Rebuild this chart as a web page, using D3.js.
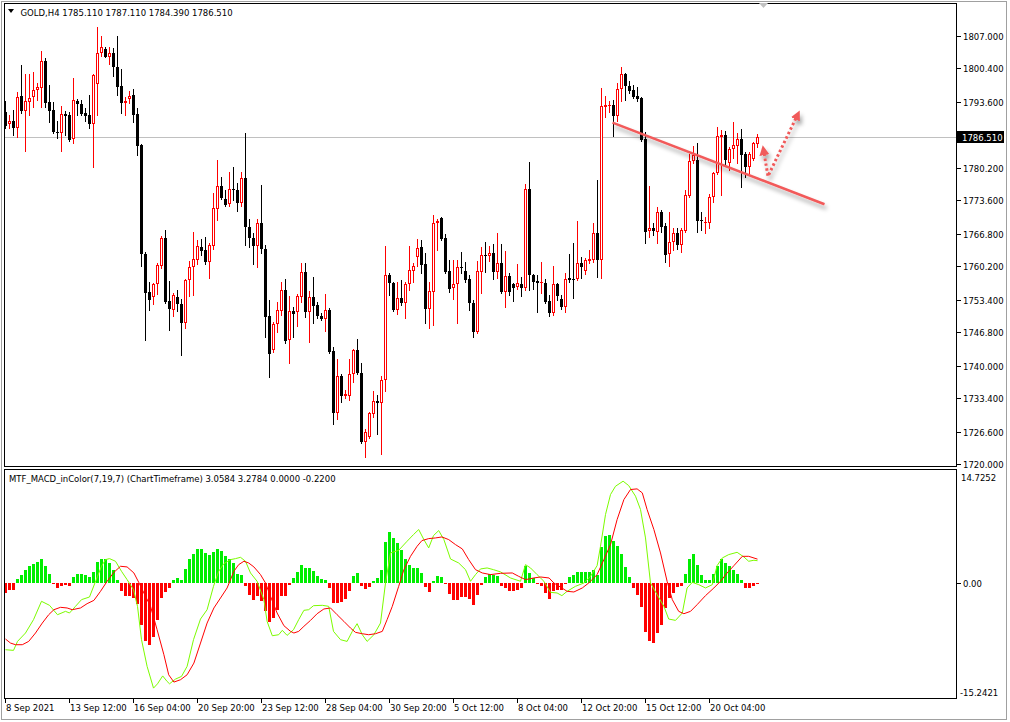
<!DOCTYPE html>
<html><head><meta charset="utf-8">
<script src="https://cdn.jsdelivr.net/npm/d3@7"></script>
<style>
body{margin:0;background:#fff;}
svg{display:block;}
text{font-family:'DejaVu Sans',sans-serif;font-size:8.5px;fill:#000;}
</style>
</head><body>
<svg id="c" width="1010" height="722"></svg>
<script>
// ---------- DATA ----------
const symbol = "GOLD,H4";
const opens = [1791.5,1789.2,1789.8,1788.3,1794.8,1791.7,1793.6,1794.6,1796.0,1796.4,1801.9,1793.6,1792.0,1787.4,1787.3,1791.1,1790.9,1786.1,1793.8,1793.2,
1791.3,1790.9,1789.1,1797.2,1803.6,1804.3,1802.8,1803.5,1800.6,1796.8,1793.3,1794.2,1795.0,1791.1,1784.8,1762.7,1755.0,1753.9,1756.5,1760.3,
1766.0,1753.1,1751.4,1753.9,1752.5,1748.6,1757.4,1760.1,1761.5,1764.1,1763.5,1761.1,1764.3,1771.9,1776.6,1773.9,1772.8,1776.0,1775.7,1773.0,
1778.1,1768.2,1765.9,1764.4,1768.9,1763.8,1750.1,1743.2,1748.4,1751.2,1755.4,1745.2,1751.2,1750.8,1754.0,1759.0,1750.8,1753.9,1752.3,1750.1,
1749.5,1751.3,1743.0,1730.3,1737.9,1733.9,1733.9,1738.3,1743.2,1738.4,1724.5,1725.5,1730.1,1732.8,1732.4,1737.1,1758.4,1756.8,1751.3,1753.7,
1752.8,1756.6,1759.3,1762.1,1764.2,1760.6,1751.5,1755.0,1768.9,1770.1,1765.9,1759.2,1755.7,1756.5,1760.1,1759.3,1757.6,1752.8,1746.9,1759.1,
1762.5,1762.3,1762.9,1759.1,1760.8,1755.0,1758.2,1756.6,1755.9,1756.6,1755.7,1776.0,1758.5,1757.2,1756.7,1756.8,1753.1,1750.7,1756.6,1753.5,
1752.0,1757.9,1757.6,1757.6,1760.8,1759.3,1761.2,1761.5,1766.9,1761.5,1792.6,1792.7,1793.0,1790.8,1796.2,1799.3,1796.8,1796.0,1794.8,1794.4,
1786.0,1767.4,1767.9,1767.2,1771.3,1768.4,1762.7,1765.1,1766.9,1764.5,1767.4,1774.5,1781.6,1781.8,1769.6,1768.9,1769.0,1774.2,1779.1,1786.5,
1786.9,1781.2,1784.0,1784.7,1786.0,1783.0,1780.4,1782.0,1785.11];
const highs = [1793.8,1790.9,1792.0,1795.6,1801.1,1799.3,1799.3,1799.7,1797.4,1803.9,1802.5,1797.0,1793.6,1789.7,1792.8,1791.7,1791.5,1798.5,1794.2,1794.0,
1792.4,1795.0,1799.3,1808.8,1806.9,1804.8,1804.7,1804.5,1807.0,1800.2,1794.5,1795.8,1796.2,1792.4,1785.0,1763.1,1757.0,1756.8,1760.8,1766.3,
1767.6,1757.2,1754.8,1755.4,1753.5,1757.7,1761.3,1767.2,1765.5,1765.7,1766.2,1764.9,1775.0,1781.8,1778.3,1775.7,1779.4,1780.3,1777.1,1779.4,
1787.2,1769.7,1766.9,1769.8,1776.7,1764.5,1753.3,1748.9,1753.0,1757.0,1757.7,1754.1,1752.0,1754.5,1760.8,1760.8,1755.2,1758.1,1753.0,1750.6,
1754.5,1751.8,1743.8,1741.3,1738.3,1735.0,1741.3,1743.3,1745.5,1740.5,1727.2,1730.6,1734.9,1734.0,1737.9,1764.3,1758.9,1757.0,1756.9,1757.4,
1757.0,1764.4,1760.8,1765.7,1765.5,1762.8,1757.0,1770.6,1769.7,1770.3,1766.7,1761.5,1761.5,1761.5,1763.1,1761.1,1758.4,1753.3,1761.3,1764.2,
1765.2,1764.4,1764.8,1767.0,1764.7,1763.3,1758.9,1756.8,1760.6,1758.1,1776.9,1781.4,1758.7,1758.4,1761.0,1757.7,1754.3,1760.2,1756.8,1754.3,
1758.9,1762.7,1765.0,1769.4,1762.0,1761.8,1763.6,1768.9,1777.7,1796.4,1794.8,1793.8,1794.0,1797.5,1800.8,1799.5,1797.9,1797.0,1796.6,1794.6,
1787.5,1776.5,1768.9,1772.3,1771.6,1768.9,1771.2,1767.9,1767.9,1768.0,1775.7,1783.1,1784.6,1785.2,1771.2,1770.2,1774.8,1779.4,1788.6,1787.9,
1787.7,1784.5,1789.6,1787.3,1788.1,1783.5,1783.5,1785.4,1787.11];
const lows = [1788.3,1788.2,1786.9,1786.5,1791.3,1783.6,1790.9,1792.6,1794.0,1792.6,1792.6,1789.5,1787.3,1786.3,1783.6,1786.9,1785.6,1785.2,1790.9,1790.9,
1789.7,1788.3,1780.4,1790.9,1802.9,1802.7,1801.4,1798.9,1795.0,1791.4,1790.9,1793.4,1789.6,1782.8,1760.3,1745.2,1751.4,1752.5,1754.5,1759.9,
1752.8,1747.2,1750.1,1751.2,1742.1,1747.7,1754.1,1754.3,1760.6,1762.5,1760.6,1757.9,1763.8,1769.6,1773.8,1772.4,1772.4,1773.7,1771.5,1772.4,
1764.5,1764.2,1760.6,1760.1,1762.8,1745.9,1737.7,1742.8,1746.9,1750.3,1744.6,1740.5,1745.9,1748.0,1753.0,1749.9,1744.8,1748.6,1749.6,1749.3,
1747.1,1742.6,1728.1,1729.1,1732.6,1733.5,1733.0,1736.7,1738.2,1724.2,1721.5,1725.2,1729.6,1726.1,1722.0,1734.9,1754.3,1751.2,1750.5,1752.3,
1749.7,1755.4,1757.0,1760.3,1758.8,1748.7,1747.7,1748.2,1763.6,1765.5,1758.8,1755.0,1753.5,1748.6,1758.9,1757.0,1751.3,1745.9,1746.7,1754.8,
1759.0,1761.3,1757.7,1757.9,1754.8,1752.0,1754.3,1753.2,1755.5,1754.1,1755.4,1755.4,1755.5,1750.9,1754.8,1752.7,1750.1,1750.3,1753.3,1751.6,
1750.8,1757.0,1753.8,1757.4,1757.9,1758.6,1760.8,1761.1,1758.1,1757.9,1790.6,1791.6,1786.7,1789.7,1793.8,1794.0,1795.5,1794.3,1793.8,1785.7,
1764.9,1766.1,1766.5,1764.9,1767.2,1761.0,1760.2,1763.5,1763.7,1763.0,1767.2,1774.3,1781.2,1767.2,1767.5,1766.9,1767.9,1773.3,1778.9,1774.7,
1780.8,1779.7,1782.3,1781.1,1776.4,1778.4,1778.9,1781.8,1784.39];
const closes = [1788.7,1789.7,1788.2,1794.6,1791.7,1793.8,1794.4,1796.0,1796.6,1801.9,1793.4,1791.7,1787.5,1787.2,1791.1,1790.7,1785.9,1794.0,1793.2,1791.1,
1790.7,1789.1,1799.1,1803.5,1804.7,1802.8,1803.5,1800.6,1796.7,1793.3,1793.8,1794.9,1790.9,1784.7,1762.7,1754.8,1753.3,1756.6,1760.4,1766.0,
1752.9,1751.5,1754.3,1752.5,1748.6,1757.5,1760.0,1761.6,1764.3,1763.3,1761.0,1764.5,1772.0,1776.6,1774.1,1772.6,1775.8,1775.6,1773.0,1778.1,
1768.1,1765.9,1764.4,1768.9,1763.8,1749.9,1742.3,1748.4,1751.3,1755.4,1745.1,1751.1,1750.5,1754.1,1759.0,1750.8,1753.9,1752.2,1750.1,1749.5,
1751.3,1742.8,1730.3,1737.9,1733.9,1734.2,1738.3,1743.2,1738.4,1724.4,1726.6,1730.3,1732.8,1732.4,1737.1,1758.4,1756.8,1751.3,1753.7,1752.7,
1756.6,1759.4,1760.3,1764.0,1760.4,1751.5,1755.2,1768.9,1769.4,1765.7,1759.1,1755.6,1756.5,1760.0,1759.8,1757.4,1752.7,1746.9,1759.2,1762.5,
1762.3,1762.8,1759.1,1760.8,1755.0,1758.2,1755.0,1755.7,1756.7,1755.7,1775.9,1758.5,1757.0,1756.7,1757.0,1753.0,1750.7,1756.6,1754.2,1752.0,
1757.7,1757.4,1757.4,1760.8,1760.1,1761.5,1761.6,1766.9,1761.5,1792.8,1793.0,1793.0,1790.8,1796.2,1799.3,1796.8,1795.9,1794.5,1794.1,1785.9,
1767.2,1767.9,1767.4,1771.3,1768.2,1762.5,1765.2,1767.0,1764.5,1767.5,1774.7,1781.6,1782.9,1769.4,1769.4,1769.2,1774.3,1779.2,1786.7,1786.9,
1781.8,1784.0,1784.8,1786.0,1782.8,1780.3,1783.0,1785.2,1786.51];

const histogram = [-1.44,-1.07,-0.98,0.56,1.12,1.81,2.28,2.6,2.84,3.35,2.28,1.26,-0.14,-0.74,-0.42,-0.28,-0.51,0.79,1.26,1.26,
1.12,0.79,1.49,2.84,3.35,3.3,2.74,1.81,0.33,-1.21,-1.91,-1.91,-2.14,-2.93,-5.95,-8.19,-8.74,-7.63,-5.16,-2.14,
-1.35,-0.74,0.42,0.65,0.33,1.91,3.3,4.05,4.74,4.74,4.14,3.81,4.23,4.74,4.37,3.67,3.3,2.74,1.21,1.12,
-0.51,-1.67,-2.37,-1.81,-2.6,-4.0,-5.53,-4.93,-3.77,-1.91,-1.81,-0.37,0.65,1.44,2.51,2.0,2.0,1.58,0.98,0.51,
0.42,-0.74,-2.84,-2.84,-2.74,-2.28,-1.12,0.88,1.35,-0.42,-0.88,-0.6,0.19,0.65,1.81,5.63,7.02,6.23,5.53,4.6,
3.3,2.51,2.05,2.05,1.35,-0.65,-1.35,0.19,0.98,0.79,-0.14,-1.53,-2.37,-2.37,-2.05,-2.0,-2.28,-3.07,-1.67,-0.28,
0.79,1.26,1.12,0.98,-0.51,-0.74,-1.21,-1.21,-0.98,-0.74,2.28,1.35,0.65,-0.14,-0.51,-1.44,-2.28,-1.21,-0.98,-1.07,
-0.14,0.74,1.02,1.44,1.49,1.49,1.49,1.81,1.12,4.93,6.56,6.7,5.77,5.07,4.05,2.19,0.74,-0.74,-1.67,-3.44,
-6.93,-8.19,-8.42,-7.02,-5.95,-3.53,-2.14,-1.44,-0.6,-0.42,1.26,3.3,4.05,2.51,1.12,0.33,0.33,1.26,2.37,3.35,
2.74,2.28,1.72,1.26,0.33,-0.74,-0.74,-0.51,-0.22];

// MACD main line (bar position, value)
const macdMain = [[0,-9.35],[2,-9.44],[3,-8.19],[5,-7.02],[7,-5.16],[9,-2.6],[11,-3.16],[13,-4.47],[15,-4.0],[16,-4.23],[17.5,-3.3],[19,-2.37],[21,-2.0],[23,0.88],[24,2.28],[25,3.21],[26,3.35],[27.5,2.98],[29,1.58],[30.4,0.42],[32,-0.98],[33,-3.3],[34,-7.95],[35.4,-11.67],[37,-14.7],[38,-14.1],[39.3,-13.0],[40.4,-13.77],[41,-14.1],[42.5,-13.44],[44,-13.07],[45.4,-11.67],[47,-7.95],[48.75,-5.07],[50.4,-3.77],[52,-0.51],[53.3,1.58],[54.6,2.65],[56.25,3.21],[57.5,3.35],[58.75,3.53],[60,2.98],[61.25,1.35],[62.9,0.19],[64.6,-2.37],[65.4,-5.4],[66.7,-7.4],[68.3,-7.26],[69.2,-6.65],[70.4,-7.35],[72,-6.56],[73.3,-5.16],[74.6,-3.86],[75.8,-3.77],[77,-3.21],[79.2,-3.16],[80.8,-3.3],[82,-6.79],[83.75,-7.95],[85.4,-8.19],[86.7,-6.79],[87.9,-5.72],[89.2,-7.26],[90.4,-8.19],[92.1,-7.26],[93.75,-5.63],[95,-0.05],[96.25,4.14],[98.3,4.51],[100.4,5.77],[102,6.7],[103.3,7.4],[104.6,6.0],[105.8,4.84],[107,6.56],[108.3,7.26],[109.6,6.0],[111.25,3.3],[113.3,2.74],[115,1.81],[116.25,0.19],[117.5,1.12],[118.75,1.91],[120.4,2.05],[122,1.81],[123.75,1.5],[126.25,0.65],[128.75,0.19],[130,2.51],[131.25,2.05],[132.9,1.12],[134.6,0.19],[136.25,-1.35],[137.9,-1.44],[139.1,-1.81],[140.4,-1.21],[142.5,-0.51],[144.6,-0.05],[146.25,0.88],[147.9,2.37],[148.75,5.07],[150,9.49],[151.25,12.28],[152.5,13.44],[154.4,14.14],[155.8,13.53],[157.5,12.05],[158.75,10.19],[160,6.23],[161.25,-0.05],[162.9,-1.67],[164.6,-3.3],[165.8,-5.07],[167.5,-5.26],[169.2,-4.23],[170.4,-0.74],[171.7,0.05],[173.3,-0.28],[175,-0.74],[176.7,-0.28],[177.9,2.37],[179.2,3.44],[180.8,3.91],[182.9,4.23],[184.6,3.58],[185.8,2.98],[187.1,3.12],[188,3.0584]];
// MACD signal line (bar position, value)
const macdSignal = [[0,-7.86],[1.25,-8.42],[2.5,-8.65],[4.2,-8.65],[5.8,-8.19],[7.5,-7.02],[9.2,-5.63],[10.8,-4.47],[12.1,-3.77],[13.75,-3.44],[15.4,-3.53],[16.7,-3.77],[18.75,-3.53],[20.4,-2.93],[22.1,-2.47],[23.75,-1.21],[25.4,0.19],[27.1,1.44],[28.75,2.28],[30.4,2.19],[32.1,1.35],[33.3,0.05],[34.6,-1.44],[36.25,-3.3],[37.9,-6.56],[39.6,-10.05],[40.8,-12.84],[42.1,-13.86],[43.75,-13.53],[45.4,-12.84],[47.1,-11.21],[48.75,-8.42],[50.4,-5.63],[52.1,-3.53],[53.75,-2.14],[55.4,-0.74],[57.1,1.58],[58.3,2.51],[59.6,2.98],[60.8,2.74],[62.1,2.19],[63.75,1.12],[65,-0.05],[66.25,-1.91],[67.9,-4.23],[69.6,-6.0],[71.25,-6.79],[72.1,-7.02],[73.3,-6.79],[74.6,-6.09],[76.25,-5.26],[77.9,-4.33],[79.6,-3.67],[81.25,-3.53],[82.9,-4.47],[84.6,-5.4],[86.25,-6.33],[87.5,-6.93],[89.2,-7.12],[90.8,-7.26],[92.5,-7.12],[94.2,-6.79],[95.4,-5.16],[96.7,-3.3],[98.3,-0.51],[99.6,1.81],[101.25,3.67],[102.9,5.07],[104.1,5.86],[105.8,6.14],[107.5,6.23],[109.1,6.37],[110.8,6.0],[112.5,5.3],[114.2,4.7],[115.8,3.21],[117.5,1.81],[119.2,1.35],[121.25,1.12],[123.75,1.3],[126.7,1.35],[128.3,0.88],[130,0.42],[132.1,0.65],[133.75,0.79],[135.9,0.65],[137.1,-0.05],[139.1,-0.74],[140.4,-1.21],[142.1,-1.3],[144.2,-0.74],[145.8,-0.05],[147.9,1.12],[149.6,3.21],[151.25,5.3],[152.9,8.79],[154.6,11.58],[156.25,12.98],[157.9,13.07],[159.2,12.51],[160.4,10.19],[162.1,7.4],[163.75,4.14],[165.4,0.19],[166.7,-2.37],[168.3,-4.0],[169.6,-4.33],[171.25,-4.0],[172.9,-3.07],[175,-1.81],[177.1,-0.74],[178.75,0.19],[180.4,1.35],[182.1,2.37],[184.2,3.67],[185.8,3.67],[188,3.2784]];

const timeLabels = ["8 Sep 2021","13 Sep 12:00","16 Sep 04:00","20 Sep 20:00","23 Sep 12:00","28 Sep 04:00","30 Sep 20:00","5 Oct 12:00","8 Oct 04:00","12 Oct 20:00","15 Oct 12:00","20 Oct 04:00"];
const timeLabelBars = [0,16,32,48,64,80,96,112,128,144,160,176];
const priceTicks = [1807.0,1800.4,1793.6,1780.2,1773.6,1766.8,1760.2,1753.4,1746.8,1740.0,1733.4,1726.6,1720.0];
const macdMax = 14.7252, macdMin = -15.2421;
const macdTitle = "MTF_MACD_inColor(7,19,7) (ChartTimeframe)";
// annotation: trend line and projected move (bar, price)
const trendLine = [[151.75,1789.4],[204.75,1772.8]];
const arrowSmall = [[190.6,1778.6],[189.6,1783.4]];
const arrowBig = [[190.8,1778.8],[197.8,1790.6]];

// ---------- DRAW ----------
const svg = d3.select("#c");
const x = d3.scaleLinear().domain([0, 237.5]).range([5.5, 955.5]);
const yP = d3.scaleLinear().domain([1720, 1807]).range([464, 36]);
const yM = d3.scaleLinear().domain([macdMin, macdMax]).range([692, 477]);

const defs = svg.append("defs");
defs.append("clipPath").attr("id","cp").append("rect").attr("x",5).attr("y",4).attr("width",951).attr("height",462);
defs.append("clipPath").attr("id","cm").append("rect").attr("x",5).attr("y",470).attr("width",951).attr("height",228);
const f = defs.append("filter").attr("id","sh").attr("x","-20%").attr("y","-50%").attr("width","140%").attr("height","200%");
f.append("feDropShadow").attr("dx",2).attr("dy",4).attr("stdDeviation",2).attr("flood-color","#000").attr("flood-opacity",0.35);
const mk = defs.append("marker").attr("id","ah").attr("markerUnits","userSpaceOnUse")
  .attr("markerWidth",12).attr("markerHeight",12).attr("refX",3).attr("refY",5).attr("orient","auto");
mk.append("path").attr("d","M0,0 L10,5 L0,10 Z").attr("fill","#f05a5a");

// outer frame
svg.append("rect").attr("x",1.5).attr("y",1.5).attr("width",1005).attr("height",718)
  .attr("fill","none").attr("stroke","#a0a0a0");

// bid line
const gP = svg.append("g").attr("clip-path","url(#cp)");
const last = closes.length - 1;
gP.append("line").attr("x1",5).attr("x2",956).attr("y1",Math.round(yP(closes[last]))+0.5).attr("y2",Math.round(yP(closes[last]))+0.5)
  .attr("stroke","#c0c0c0");

// candles
const idx = d3.range(opens.length);
const cg = gP.append("g");
cg.selectAll("line.w").data(idx).join("line").attr("class","w")
  .attr("x1",i=>x(i)).attr("x2",i=>x(i))
  .attr("y1",i=>Math.round(yP(highs[i]))).attr("y2",i=>Math.round(yP(lows[i]))+1)
  .attr("stroke",i=>closes[i]>=opens[i]?"#ff0000":"#000").attr("stroke-width",1);
cg.selectAll("rect.b").data(idx).join("rect").attr("class","b")
  .each(function(i){
    const up = closes[i] >= opens[i];
    const t = Math.round(yP(Math.max(opens[i],closes[i])));
    const b = Math.round(yP(Math.min(opens[i],closes[i])));
    const r = d3.select(this);
    if (up) {
      const h = Math.max(0, b - t);
      if (h < 2) {
        r.attr("x",x(i)-1.5).attr("y",t).attr("width",3).attr("height",Math.max(1,h)).attr("fill","#ff0000");
      } else {
        r.attr("x",x(i)-1).attr("y",t+0.5).attr("width",2).attr("height",h-1).attr("fill","#fff").attr("stroke","#ff0000");
      }
    } else {
      r.attr("x",x(i)-1.5).attr("y",t).attr("width",3).attr("height",Math.max(1,b-t)).attr("fill","#000");
    }
  });

// trend line + arrows
const ln = d3.line().x(d=>x(d[0])).y(d=>yP(d[1]));
const ann = svg.append("g").attr("filter","url(#sh)");
ann.append("path").attr("d",ln(trendLine)).attr("stroke","#f25a5a").attr("stroke-width",2.5).attr("fill","none");
ann.append("path").attr("d",ln(arrowSmall)).attr("stroke","#f05a5a").attr("stroke-width",3)
  .attr("stroke-dasharray","2.5,2.5").attr("fill","none").attr("marker-end","url(#ah)");
ann.append("path").attr("d",ln(arrowBig)).attr("stroke","#f05a5a").attr("stroke-width",3)
  .attr("stroke-dasharray","2.5,2.5").attr("fill","none").attr("marker-end","url(#ah)");

// MACD panel
const gM = svg.append("g").attr("clip-path","url(#cm)");
gM.selectAll("rect.h").data(idx).join("rect").attr("class","h")
  .attr("x",i=>x(i)-1.5).attr("width",3)
  .attr("y",i=>Math.round(yM(Math.max(0,histogram[i]))))
  .attr("height",i=>Math.max(1,Math.round(yM(Math.min(0,histogram[i])))-Math.round(yM(Math.max(0,histogram[i])))))
  .attr("fill",i=>histogram[i]>=0?"#00ee00":"#ff0000");
const lm = d3.line().x(d=>x(d[0])).y(d=>yM(d[1]));
gM.append("path").attr("d",lm(macdMain)).attr("stroke","#7cfc00").attr("stroke-width",1).attr("fill","none");
gM.append("path").attr("d",lm(macdSignal)).attr("stroke","#ff0000").attr("stroke-width",1).attr("fill","none");

// panel frames
svg.append("rect").attr("x",4.5).attr("y",3.5).attr("width",952).attr("height",463).attr("fill","none").attr("stroke","#000");
svg.append("rect").attr("x",4.5).attr("y",469.5).attr("width",952).attr("height",229).attr("fill","none").attr("stroke","#000");

// price axis
const pa = svg.append("g");
priceTicks.forEach(v=>{
  const yy = Math.round(yP(v))+0.5;
  pa.append("line").attr("x1",957).attr("x2",961).attr("y1",yy).attr("y2",yy).attr("stroke","#000");
  pa.append("text").attr("x",963).attr("y",yy+3.5).text(v.toFixed(3));
});
// current price box
const yc = Math.round(yP(closes[last]))+0.5;
pa.append("rect").attr("x",957).attr("y",yc-6.5).attr("width",47).attr("height",12).attr("fill","#000");
pa.append("text").attr("x",962).attr("y",yc+3.5).style("fill","#fff").text(closes[last].toFixed(3));

// macd axis
const ma = svg.append("g");
ma.append("text").attr("x",961).attr("y",yM(macdMax)+3.5).text(macdMax.toFixed(4));
const y0 = Math.round(yM(0))+0.5;
ma.append("line").attr("x1",957).attr("x2",961).attr("y1",y0).attr("y2",y0).attr("stroke","#000");
ma.append("text").attr("x",963).attr("y",y0+3.5).text("0.00");
ma.append("text").attr("x",960).attr("y",yM(macdMin)+3.5).text(macdMin.toFixed(4));

// time axis
const ta = svg.append("g");
timeLabelBars.forEach((b,k)=>{
  const xx = Math.round(x(b)-0.5)+0.5;
  ta.append("line").attr("x1",xx).attr("x2",xx).attr("y1",699).attr("y2",703).attr("stroke","#000");
  ta.append("text").attr("x",xx+0.5).attr("y",711).text(timeLabels[k]);
});

// headers
svg.append("path").attr("d","M8,9 L14,9 L11,13 Z").attr("fill","#000");
svg.append("text").attr("x",20.5).attr("y",15.5)
  .text(`${symbol}  ${opens[last].toFixed(3)} ${highs[last].toFixed(3)} ${lows[last].toFixed(3)} ${closes[last].toFixed(3)}`);
const lastMain = macdMain[macdMain.length-1][1], lastSig = macdSignal[macdSignal.length-1][1];
const hUp = histogram[last] > 0 ? histogram[last] : 0, hDn = histogram[last] < 0 ? histogram[last] : 0;
svg.append("text").attr("x",9).attr("y",481.5)
  .text(`${macdTitle} ${lastMain.toFixed(4)} ${lastSig.toFixed(4)} ${hUp.toFixed(4)} ${hDn.toFixed(4)}`);

// chart shift marker
svg.append("path").attr("d","M759,3 L768,3 L763.5,8 Z").attr("fill","#c0c0c0");
</script>
</body></html>
